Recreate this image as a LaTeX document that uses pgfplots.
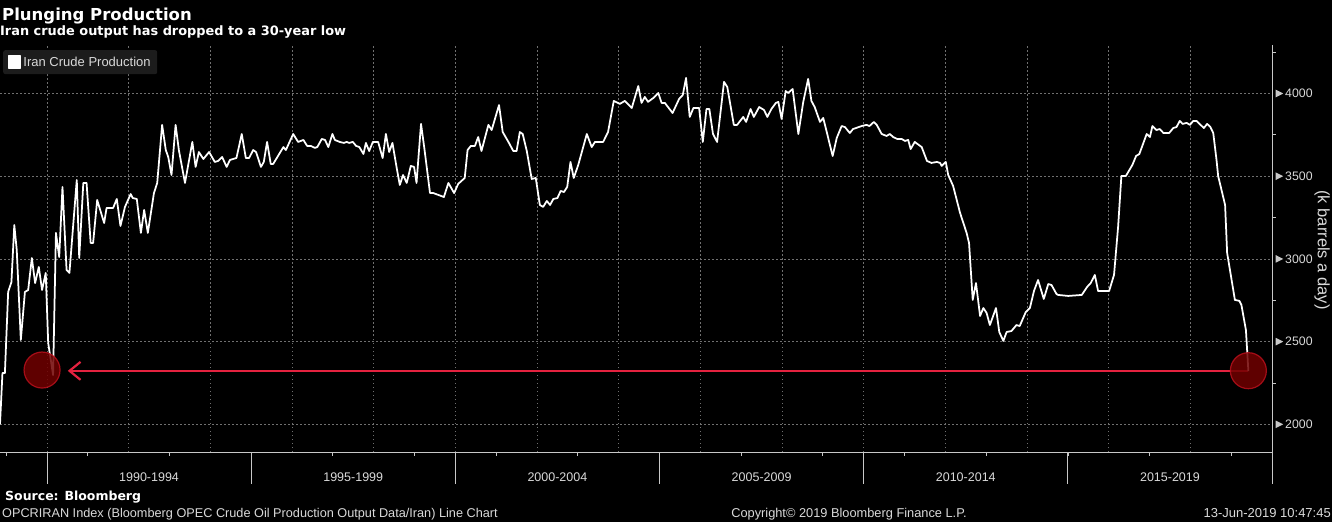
\documentclass[border=0pt]{standalone}
\usepackage{pgfplots}
\pgfplotsset{compat=1.18}
\usepackage{fontspec}
\setmainfont{Liberation Sans}
\newfontfamily\djb{DejaVu Sans}
\usetikzlibrary{arrows.meta}
\definecolor{txt}{HTML}{D9D9D9}
\definecolor{gridc}{HTML}{707070}
\definecolor{axc}{HTML}{C8C8C8}
\definecolor{legbg}{HTML}{1C1C1C}
\definecolor{annred}{HTML}{E4223F}
\definecolor{circfill}{HTML}{700000}
\definecolor{circdraw}{HTML}{B8101C}

\pgfplotstableread{
yr val
1988.85 2000
1988.91 2310
1988.97 2310
1989.05 2800
1989.13 2860
1989.20 3205
1989.26 3054
1989.36 2510
1989.46 2800
1989.54 2812
1989.63 3005
1989.71 2854
1989.80 2951
1989.88 2812
1989.97 2915
1990.03 2492
1990.15 2298
1990.22 3157
1990.30 3011
1990.38 3435
1990.48 2933
1990.55 2915
1990.73 3477
1990.79 3005
1990.89 3459
1990.97 3459
1991.07 3096
1991.13 3096
1991.23 3356
1991.40 3217
1991.46 3308
1991.62 3308
1991.71 3362
1991.80 3199
1991.91 3314
1992.05 3392
1992.10 3368
1992.20 3362
1992.30 3157
1992.38 3296
1992.47 3157
1992.62 3398
1992.70 3459
1992.82 3810
1992.91 3658
1992.97 3616
1993.05 3507
1993.15 3810
1993.23 3658
1993.38 3459
1993.56 3707
1993.64 3556
1993.72 3646
1993.83 3604
1993.97 3646
1994.11 3586
1994.19 3592
1994.29 3616
1994.40 3556
1994.48 3598
1994.64 3610
1994.77 3755
1994.87 3610
1994.95 3610
1995.05 3658
1995.12 3646
1995.24 3556
1995.31 3586
1995.39 3707
1995.48 3574
1995.54 3574
1995.79 3676
1995.85 3658
1996.03 3755
1996.15 3707
1996.28 3719
1996.37 3683
1996.46 3683
1996.56 3671
1996.62 3676
1996.73 3725
1996.81 3719
1996.89 3676
1996.99 3755
1997.05 3719
1997.17 3707
1997.27 3701
1997.34 3707
1997.40 3701
1997.49 3707
1997.57 3683
1997.65 3676
1997.75 3634
1997.81 3701
1997.89 3652
1997.98 3707
1998.11 3707
1998.22 3610
1998.30 3755
1998.38 3646
1998.46 3701
1998.56 3556
1998.64 3447
1998.72 3507
1998.81 3459
1998.91 3562
1998.99 3556
1999.05 3459
1999.16 3816
1999.24 3671
1999.38 3398
1999.46 3398
1999.72 3374
1999.83 3459
1999.97 3398
2000.07 3453
2000.23 3489
2000.30 3658
2000.38 3683
2000.48 3683
2000.56 3737
2000.64 3652
2000.81 3810
2000.89 3779
2001.07 3930
2001.16 3767
2001.30 3707
2001.42 3652
2001.50 3652
2001.58 3767
2001.65 3755
2001.75 3652
2001.87 3483
2001.97 3489
2002.07 3326
2002.15 3314
2002.24 3350
2002.32 3326
2002.40 3362
2002.50 3368
2002.58 3411
2002.66 3404
2002.74 3435
2002.82 3586
2002.90 3489
2003.01 3568
2003.22 3755
2003.34 3676
2003.42 3707
2003.62 3707
2003.74 3767
2003.88 3955
2004.03 3937
2004.15 3955
2004.32 3912
2004.48 4045
2004.56 3943
2004.64 3979
2004.72 3949
2004.85 3973
2004.97 4003
2005.05 3943
2005.13 3943
2005.32 3882
2005.48 3967
2005.57 3991
2005.65 4094
2005.74 3858
2005.83 3912
2005.97 3912
2006.06 3707
2006.15 3906
2006.22 3906
2006.31 3755
2006.41 3707
2006.58 4070
2006.66 4039
2006.82 3810
2006.90 3810
2007.05 3858
2007.12 3828
2007.23 3906
2007.31 3858
2007.44 3918
2007.56 3900
2007.64 3858
2007.74 3906
2007.85 3943
2007.91 3949
2007.99 3846
2008.09 4015
2008.15 4003
2008.26 4027
2008.40 3755
2008.52 3949
2008.64 4088
2008.72 3955
2008.80 3918
2008.93 3828
2009.01 3852
2009.24 3622
2009.34 3731
2009.46 3803
2009.54 3797
2009.66 3761
2009.74 3785
2009.95 3803
2010.07 3810
2010.14 3803
2010.25 3828
2010.32 3810
2010.44 3755
2010.56 3743
2010.64 3755
2010.72 3737
2010.82 3725
2010.93 3725
2011.01 3713
2011.09 3719
2011.15 3664
2011.25 3707
2011.42 3676
2011.55 3592
2011.66 3580
2011.79 3586
2011.87 3580
2011.91 3562
2012.01 3586
2012.07 3507
2012.19 3441
2012.36 3278
2012.52 3157
2012.58 3096
2012.67 2752
2012.75 2854
2012.85 2655
2012.93 2703
2013.01 2673
2013.09 2600
2013.24 2703
2013.32 2558
2013.42 2504
2013.50 2558
2013.62 2564
2013.74 2600
2013.82 2594
2013.97 2679
2014.07 2703
2014.17 2806
2014.27 2872
2014.41 2758
2014.52 2848
2014.60 2842
2014.72 2788
2014.76 2782
2015.01 2776
2015.34 2782
2015.47 2830
2015.56 2854
2015.66 2903
2015.74 2806
2016.01 2806
2016.13 2903
2016.23 3193
2016.31 3501
2016.42 3501
2016.58 3568
2016.67 3622
2016.75 3634
2016.93 3755
2017.01 3737
2017.07 3803
2017.17 3779
2017.25 3785
2017.34 3761
2017.48 3761
2017.58 3791
2017.66 3797
2017.74 3834
2017.81 3816
2017.91 3822
2017.99 3810
2018.07 3834
2018.15 3834
2018.25 3810
2018.33 3791
2018.41 3816
2018.49 3797
2018.56 3761
2018.64 3598
2018.68 3501
2018.85 3326
2018.90 3036
2019.09 2752
2019.20 2746
2019.25 2721
2019.36 2570
2019.42 2322
}\iran

\begin{document}
\begin{tikzpicture}
\fill[black] (0pt,-70pt) rectangle (1332pt,452pt);
\begin{axis}[
  at={(0pt,0pt)}, anchor=south west,
  scale only axis, width=1272pt, height=407pt,
  xmin=1988.85, xmax=2020, ymin=1832.5, ymax=4293,
  clip=false,
  axis x line*=bottom, axis y line*=right,
  axis line style={axc, line width=0.8pt, -},
  xtick={1989,1991,...,2019}, xticklabels={},
  extra x ticks={1990,1992,...,2018}, extra x tick labels={},
  extra x tick style={grid=major, major tick length=0pt},
  ytick={2000,2500,...,4000},
  minor ytick={2250,2750,...,4250},
  ymajorgrids=true,
  major grid style={gridc, line width=0.6pt, dash pattern=on 1.5pt off 2.5pt},
  tick align=outside,
  major tick length=3.5pt, minor tick length=3.5pt,
  every tick/.style={axc, line width=0.8pt},
  major y tick style={draw=none},
  /pgf/number format/assume math mode=true,
  /pgf/number format/set thousands separator={},
  yticklabel={\tikz[baseline=-4.2pt]{\fill[axc] (0pt,-3.8pt)--(0pt,3.8pt)--(7.5pt,0pt)--cycle;}\hspace{2pt}\pgfmathprintnumber{\tick}},
  yticklabel style={anchor=west, inner sep=0pt, text=txt, font=\fontsize{12.3}{14}\selectfont},
  legend style={at={(axis description cs:0.0024,0.9877)}, anchor=north west,
    fill=legbg, draw=none, text=txt, rounded corners=2pt,
    font=\fontsize{13}{15}\selectfont, inner xsep=4.5pt, inner ysep=4.5pt},
  legend image code/.code={\fill[white, sharp corners] (0pt,-6pt) rectangle (12pt,6pt);},
]
\addplot[only marks, mark=*, mark size=18pt, forget plot,
  mark options={fill=circfill, draw=circdraw, line width=1.2pt, opacity=0.85}]
  coordinates {(1989.88,2328) (2019.42,2324)};
\addplot[annred, line width=2.4pt, forget plot,
  -{Straight Barb[length=11pt, width=18pt, line width=2.2pt]}]
  coordinates {(2019.42,2323) (1990.51,2323)};
\addplot[white, line width=1.75pt, line join=round] table[x=yr, y=val] {\iran};
\addlegendentry{Iran Crude Production}
\draw[axc, line width=0.8pt] (axis cs:1990,1832.5) -- ++(0pt,-32pt);
\draw[axc, line width=0.8pt] (axis cs:1995,1832.5) -- ++(0pt,-32pt);
\draw[axc, line width=0.8pt] (axis cs:2000,1832.5) -- ++(0pt,-32pt);
\draw[axc, line width=0.8pt] (axis cs:2005,1832.5) -- ++(0pt,-32pt);
\draw[axc, line width=0.8pt] (axis cs:2010,1832.5) -- ++(0pt,-32pt);
\draw[axc, line width=0.8pt] (axis cs:2015,1832.5) -- ++(0pt,-32pt);
\draw[axc, line width=0.8pt] (axis cs:2020,1832.5) -- ++(0pt,-32pt);
\node[text=txt, font=\fontsize{12.5}{14}\selectfont, anchor=base] at ([yshift=-29pt]axis cs:1992.5,1832.5) {1990-1994};
\node[text=txt, font=\fontsize{12.5}{14}\selectfont, anchor=base] at ([yshift=-29pt]axis cs:1997.5,1832.5) {1995-1999};
\node[text=txt, font=\fontsize{12.5}{14}\selectfont, anchor=base] at ([yshift=-29pt]axis cs:2002.5,1832.5) {2000-2004};
\node[text=txt, font=\fontsize{12.5}{14}\selectfont, anchor=base] at ([yshift=-29pt]axis cs:2007.5,1832.5) {2005-2009};
\node[text=txt, font=\fontsize{12.5}{14}\selectfont, anchor=base] at ([yshift=-29pt]axis cs:2012.5,1832.5) {2010-2014};
\node[text=txt, font=\fontsize{12.5}{14}\selectfont, anchor=base] at ([yshift=-29pt]axis cs:2017.5,1832.5) {2015-2019};
\end{axis}
\node[anchor=base west, inner sep=0pt, text=white, font=\djb\bfseries\fontsize{16.5}{18}\selectfont] at (2pt,431pt) {Plunging Production};
\node[anchor=base west, inner sep=0pt, text=white, font=\djb\bfseries\fontsize{12.9}{14}\selectfont] at (0pt,416pt) {Iran crude output has dropped to a 30-year low};
\node[rotate=-90, text=txt, font=\fontsize{16.5}{18}\selectfont] at (1322pt,202pt) {(k barrels a day)};
\node[anchor=base west, inner sep=0pt, text=white, font=\djb\bfseries\fontsize{12.5}{14}\selectfont] at (5pt,-48pt) {Source: Bloomberg};
\node[anchor=base west, inner sep=0pt, text=txt, font=\fontsize{12.7}{14}\selectfont] at (2pt,-65pt) {OPCRIRAN Index (Bloomberg OPEC Crude Oil Production Output Data/Iran) Line Chart};
\node[anchor=base, inner sep=0pt, text=txt, font=\fontsize{12.8}{14}\selectfont] at (849pt,-65pt) {Copyright© 2019 Bloomberg Finance L.P.};
\node[anchor=base east, inner sep=0pt, text=txt, font=\fontsize{13}{14}\selectfont] at (1331pt,-65pt) {13-Jun-2019 10:47:45};
\pgfresetboundingbox
\path[use as bounding box] (0pt,-70pt) rectangle (1332pt,452pt);
\end{tikzpicture}
\end{document}
